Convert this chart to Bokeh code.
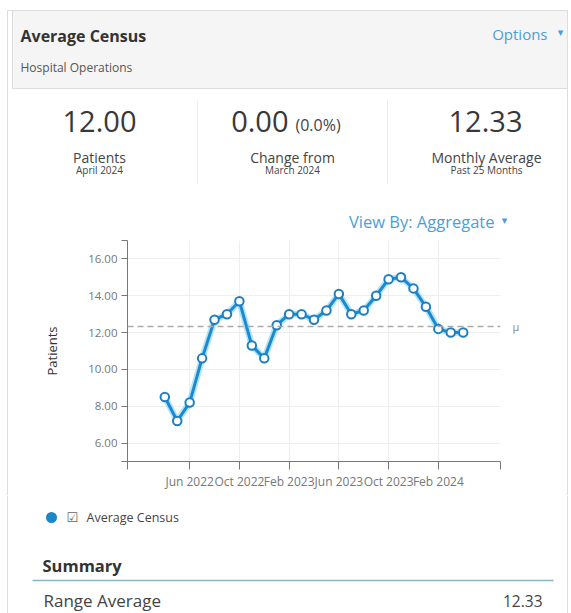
import numpy as np
import pandas as pd
from bokeh.plotting import figure
from bokeh.layouts import column
from bokeh.models import (Range1d, FixedTicker, Span, LinearAxis, CustomJSTickFormatter)
from bokeh.embed import file_html
from bokeh.resources import INLINE
from bokeh.core.properties import value

# ---------------- data ----------------
months = ["2022-04", "2022-05", "2022-06", "2022-07", "2022-08", "2022-09", "2022-10",
          "2022-11", "2022-12", "2023-01", "2023-02", "2023-03", "2023-04", "2023-05",
          "2023-06", "2023-07", "2023-08", "2023-09", "2023-10", "2023-11", "2023-12",
          "2024-01", "2024-02", "2024-03", "2024-04"]
census = [8.5, 7.2, 8.2, 10.6, 12.7, 13.0, 13.7, 11.3, 10.6, 12.4, 13.0, 13.0, 12.7,
          13.2, 14.1, 13.0, 13.2, 14.0, 14.9, 15.0, 14.4, 13.4, 12.2, 12.0, 12.0]
tick_months = ["2022-01", "2022-06", "2022-10", "2023-02", "2023-06", "2023-10", "2024-02", "2024-07"]
tick_labels = ["", "Jun 2022", "Oct 2022", "Feb 2023", "Jun 2023", "Oct 2023", "Feb 2024", ""]
y_ticks = [5, 6, 8, 10, 12, 14, 16, 17]
y_tick_labels = ["", "6.00", "8.00", "10.00", "12.00", "14.00", "16.00", ""]
y_start, y_end = 5, 17
series_name = "Average Census"

FONT = "Open Sans"
W = 571


def month_index(s):
    d = pd.Timestamp(s + "-01")
    return (d.year - 2022) * 12 + d.month - 1


x = [month_index(m) for m in months]
xt = [month_index(m) for m in tick_months]
mean_val = float(np.mean(census))
latest = census[-1]
change = census[-1] - census[-2]
change_pct = change / census[-2] * 100


def txt(p, x0, y0, s, size, color, style="normal", align="left", font=FONT):
    p.text(x=[x0], y=[y0], text=[s], text_font=value(font), text_font_size=value(size),
           text_color=color, text_font_style=style, text_align=align, text_baseline="middle")


def blank(h, y0):
    p = figure(width=W, height=h, x_range=Range1d(0, W), y_range=Range1d(y0 + h, y0),
               x_axis_type=None, y_axis_type=None, output_backend="svg", toolbar_location=None,
               min_border=0, frame_align=False)
    p.outline_line_color = None
    p.background_fill_color = "white"
    p.border_fill_color = "white"
    return p


BORDER = "#dddddd"
LINK = "#4a9fd8"

# ---------------- top part ----------------
TOP_H = 236
top = blank(TOP_H, 0)
top.quad(left=[12], right=[567], top=[10], bottom=[88], fill_color="#f5f5f5", line_color=None)
top.segment(x0=[7, 567, 7, 12, 12], y0=[10, 10, 10, 88, 10], x1=[7, 567, 567, 567, 12],
            y1=[TOP_H, TOP_H, 10, 88, 88], line_color=BORDER, line_width=1)
txt(top, 20, 35, "Average Census", "16px", "#333333", style="bold")
txt(top, 20, 67, "Hospital Operations", "12px", "#555555")
txt(top, 547, 33, "Options", "15px", LINK, align="right")
txt(top, 560, 32, "\u25BE", "11px", LINK, align="center", font="DejaVu Sans")

top.segment(x0=[197, 387], y0=[100, 100], x1=[197, 387], y1=[184, 184], line_color="#ececec")
txt(top, 99, 121, f"{latest:.2f}", "29px", "#383838", align="center")
txt(top, 99, 157, "Patients", "14px", "#444444", align="center")
txt(top, 99, 169, "April 2024", "10px", "#444444", align="center")

txt(top, 288, 121, f"{change:.2f}", "29px", "#383838", align="right")
txt(top, 295, 124, f"({change_pct:.1f}%)", "16px", "#444444", align="left")
txt(top, 292, 157, "Change from", "14px", "#444444", align="center")
txt(top, 292, 169, "March 2024", "10px", "#444444", align="center")

txt(top, 485, 121, f"{mean_val:.2f}", "29px", "#383838", align="center")
txt(top, 486, 157, "Monthly Average", "14px", "#444444", align="center")
txt(top, 486, 169, "Past 25 Months", "10px", "#444444", align="center")

txt(top, 494, 221, "View By: Aggregate", "16.5px", LINK, align="right")
txt(top, 504, 220, "\u25BE", "11px", LINK, align="center", font="DejaVu Sans")

# ---------------- chart ----------------
CH_H = 259
chart = figure(width=W, height=CH_H, x_range=Range1d(xt[0], xt[-1]), y_range=Range1d(y_start, y_end),
               output_backend="svg", toolbar_location=None, frame_align=False,
               min_border_left=127, min_border_right=71, min_border_top=4, min_border_bottom=34,
               styles={"background": "linear-gradient(to right, #fff 7px, #ddd 7px, #ddd 8px, #fff 8px, "
                                     "#fff 567px, #ddd 567px, #ddd 568px, #fff 568px)"})
chart.border_fill_color = None
chart.background_fill_color = "white"
chart.outline_line_color = None

chart.xaxis.ticker = FixedTicker(ticks=xt)
chart.xaxis.major_label_overrides = {t: l for t, l in zip(xt, tick_labels)}
chart.yaxis.ticker = FixedTicker(ticks=y_ticks)
chart.yaxis.major_label_overrides = {t: l for t, l in zip(y_ticks, y_tick_labels)}
chart.xgrid.ticker = FixedTicker(ticks=xt)
chart.ygrid.ticker = FixedTicker(ticks=y_ticks[1:-1])
chart.grid.grid_line_color = "#eeeeee"

for ax in (chart.xaxis, chart.yaxis):
    ax.axis_line_color = "#777777"
    ax.major_tick_line_color = "#777777"
    ax.minor_tick_line_color = None
    ax.major_tick_in = 0
    ax.major_label_text_color = "#777777"
    ax.major_label_text_font = FONT
chart.xaxis.major_label_text_font_size = "12px"
chart.yaxis.major_label_text_font_size = "11.5px"
chart.xaxis.major_tick_out = 8
chart.xaxis.major_label_standoff = 3
chart.yaxis.major_tick_out = 6
chart.yaxis.major_label_standoff = 4
chart.yaxis.axis_label = "Patients"
chart.yaxis.axis_label_text_font = FONT
chart.yaxis.axis_label_text_font_style = "normal"
chart.yaxis.axis_label_text_font_size = "13px"
chart.yaxis.axis_label_text_color = "#333333"
chart.yaxis.axis_label_standoff = 24

chart.add_layout(Span(location=mean_val, dimension="width", line_color="#aaaaaa",
                      line_dash="6 4", line_width=1.5))
mu_axis = LinearAxis(ticker=FixedTicker(ticks=[mean_val]),
                     formatter=CustomJSTickFormatter(code="return '\u03bc'"),
                     axis_line_color=None, major_tick_line_color=None, minor_tick_line_color=None,
                     major_label_standoff=6, major_label_text_color="#888888",
                     major_label_text_font=FONT, major_label_text_font_size="11px")
chart.add_layout(mu_axis, "right")

chart.line(x, census, line_width=6.5, line_color="#7fd3f3", line_alpha=0.6)
chart.line(x, census, line_width=3, line_color="#1d89cf")
chart.scatter(x, census, size=8.5, fill_color="white", line_color="#1d7fc2", line_width=2)

# ---------------- bottom ----------------
BOT_Y = TOP_H + CH_H
bot = blank(613 - BOT_Y, BOT_Y)
bot.segment(x0=[7, 567], y0=[BOT_Y, BOT_Y], x1=[7, 567], y1=[613, 613], line_color=BORDER)
bot.scatter(x=[51], y=[517], size=11, fill_color="#1a86cc", line_color=None)
txt(bot, 66, 517, "\u2611", "13px", "#666666", font="DejaVu Sans")
txt(bot, 86, 517, series_name, "12.5px", "#444444")
txt(bot, 42, 565, "Summary", "16.5px", "#333333", style="bold")
bot.segment(x0=[32], y0=[580], x1=[553], y1=[580], line_color="#8cb4c2", line_width=1.5)
txt(bot, 43, 600, "Range Average", "17px", "#444444")
txt(bot, 542, 600, f"{mean_val:.2f}", "15.5px", "#444444", align="right")

layout = column(top, chart, bot, spacing=0)
open("out.html", "w").write(file_html(layout, INLINE))
